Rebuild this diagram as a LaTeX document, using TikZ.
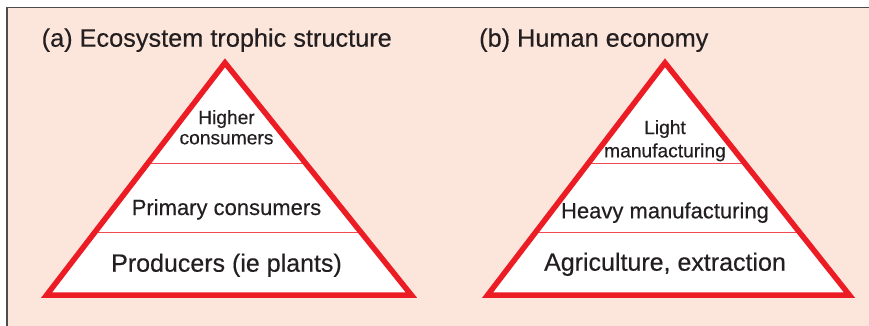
\documentclass[tikz,border=0pt]{standalone}
\usepackage{fontspec}
\setmainfont[FakeBold=0.35]{Liberation Sans}
\definecolor{bgpink}{HTML}{FCE5DA}
\definecolor{frame}{HTML}{4D4D4D}
\definecolor{pyred}{HTML}{EC1C24}
\definecolor{divred}{HTML}{EE4A52}
\definecolor{txt}{HTML}{231F20}
\begin{document}
\begin{tikzpicture}[x=1pt,y=-1pt]
\tikzset{
  lbl/.style={anchor=base, inner sep=0pt, text=txt},
  ttl/.style={anchor=base west, inner sep=0pt, text=txt, font=\fontsize{25.3}{30}\selectfont},
  big/.style={lbl, font=\fontsize{25}{30}\selectfont},
  mid/.style={lbl, font=\fontsize{22}{26}\selectfont},
  small/.style={lbl, font=\fontsize{19.2}{23}\selectfont},
  pyr/.style={draw=pyred, line width=5.5pt, line join=miter},
  divider/.style={draw=divred, line width=1.3pt},
}
\useasboundingbox (0,0) rectangle (869,325);
\fill[white] (0,0) rectangle (869,325);
\draw[draw=frame, line width=1.7pt, fill=bgpink] (7.3,7.5) rectangle (885,345);

% titles
\node[ttl] (ta) at (41.5,46.7) {(a) Ecosystem trophic structure};
\node[ttl] (tb) at (479,46.7) {(b) Human economy};

% pyramid a
\coordinate (aA) at (225,62.8);
\coordinate (aL) at (46.5,295.2);
\coordinate (aR) at (411.5,295.2);
\begin{scope}
  \clip (aA) -- (aL) -- (aR) -- cycle;
  \fill[white] (aA) -- (aL) -- (aR) -- cycle;
  \coordinate (a1l) at (0,163.3);
  \coordinate (a1r) at (869,163.3);
  \coordinate (a2l) at (0,232.3);
  \coordinate (a2r) at (869,232.3);
  \draw[divider] (a1l) -- (a1r);
  \draw[divider] (a2l) -- (a2r);
\end{scope}
\draw[pyr] (aA) -- (aL) -- (aR) -- cycle;

\node[small] (ah1) at (226.5,124) {Higher};
\node[small] (ah2) at (226.5,144.3) {consumers};
\node[mid] (ap) at (226.5,215) {Primary consumers};
\node[big] (apr) at (226.5,271.7) {Producers (ie plants)};

% pyramid b
\coordinate (bA) at (665,62.8);
\coordinate (bL) at (487.5,295.2);
\coordinate (bR) at (849.5,295.2);
\begin{scope}
  \clip (bA) -- (bL) -- (bR) -- cycle;
  \fill[white] (bA) -- (bL) -- (bR) -- cycle;
  \coordinate (b1l) at (0,163.3);
  \coordinate (b1r) at (869,163.3);
  \coordinate (b2l) at (0,232.3);
  \coordinate (b2r) at (869,232.3);
  \draw[divider] (b1l) -- (b1r);
  \draw[divider] (b2l) -- (b2r);
\end{scope}
\draw[pyr] (bA) -- (bL) -- (bR) -- cycle;

\node[small] (bl1) at (665,134) {Light};
\node[small] (bl2) at (665,157.3) {manufacturing};
\node[mid] (bh) at (665,218.3) {Heavy manufacturing};
\node[big] (ba) at (665,270.7) {Agriculture, extraction};
\end{tikzpicture}
\end{document}
